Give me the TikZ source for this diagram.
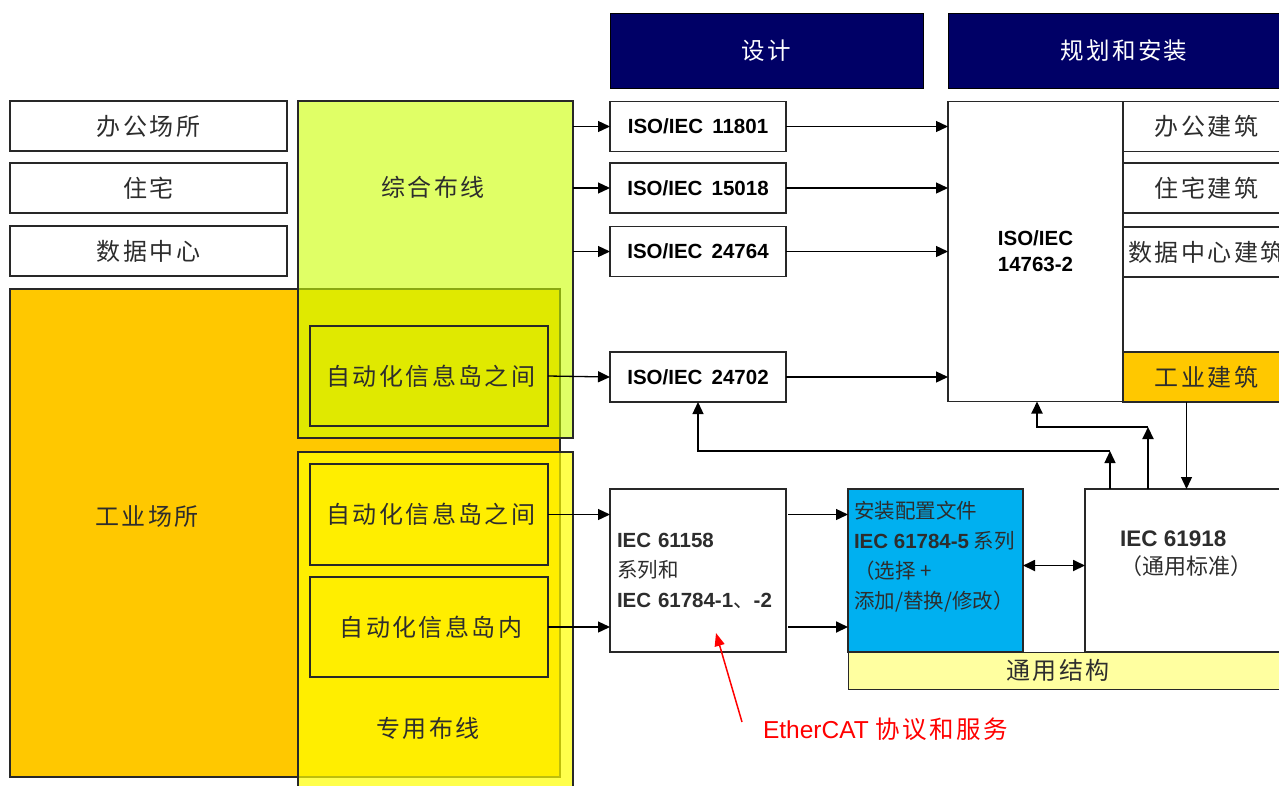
\documentclass[tikz,border=0pt]{standalone}
\usepackage{fontspec}
\setmainfont{Liberation Sans}
\newfontfamily\cjk{Noto Sans CJK SC}
\newfontfamily\cjkls[LetterSpace=10]{Noto Sans CJK SC}
\usetikzlibrary{arrows.meta,calc}
\definecolor{navy}{RGB}{0,0,102}
\definecolor{orng}{RGB}{255,200,0}
\definecolor{lime}{RGB}{204,255,0}
\definecolor{ylw}{RGB}{255,255,0}
\definecolor{sky}{RGB}{0,176,240}
\definecolor{pale}{RGB}{255,255,160}
\definecolor{txt}{RGB}{45,45,45}
\definecolor{bord}{RGB}{40,40,40}
\begin{document}
\begin{tikzpicture}[x=1pt,y=-1pt,
  wh/.style 2 args={minimum width=#1pt,minimum height=#2pt},
  every node/.style={inner sep=0pt,outer sep=0pt},
  lbl/.style={text=txt,font=\cjkls\fontsize{24}{26}\selectfont},
  hdr/.style={draw=black,line width=1pt,fill=navy,text=white,font=\cjkls\fontsize{23.5}{26}\selectfont},
  wbox/.style={draw=bord,line width=1.3pt,fill=white,lbl},
  obox/.style={draw=bord,line width=1.3pt},
  isobox/.style={draw=bord,line width=1.3pt,fill=white,text=black,font=\bfseries\fontsize{20.5}{26}\selectfont},
  arr/.style={draw=black,line width=1.3pt,-{Triangle[length=12pt,width=11pt]}},
  darr/.style={draw=black,line width=1.8pt,{Triangle[length=12pt,width=11pt]}-{Triangle[length=12pt,width=11pt]}},
  cjkt/.style={font=\cjk\fontsize{20.5}{30}\selectfont},
]
\useasboundingbox (0,0) rectangle (1279,785);
% headers
\node[hdr,wh={313}{75}] (h1) at (766.5,50.5) {设计};
\node[hdr,wh={352}{75}] (h2) at (1124,50.5) {规划和安装};
% left column
\node[wbox,wh={277}{50}] (office) at (148.5,126) {办公场所};
\node[wbox,wh={277}{50}] (home) at (148.5,188) {住宅};
\node[wbox,wh={277}{50}] (dc) at (148.5,251) {数据中心};
\node[obox,fill=orng,wh={550}{488}] (ind) at (285,533) {};
\node[lbl] (indt) at (147,517) {工业场所};
\node[obox,fill=lime,fill opacity=0.6,wh={275}{337}] (gen) at (435.5,269.5) {};
\node[lbl] (gent) at (433,187) {综合布线};
\node[obox,wh={238}{100}] (in1) at (429,376) {};
\node[lbl] (in1t) at (431,376) {自动化信息岛之间};
\node[obox,fill=ylw,fill opacity=0.7,wh={275}{360}] (ded) at (435.5,632) {};
\node[lbl] (dedt) at (428,728) {专用布线};
\node[obox,wh={238}{101}] (in2) at (429,514.5) {};
\node[lbl] (in2t) at (431,514.5) {自动化信息岛之间};
\node[obox,wh={238}{100}] (in3) at (429,627) {};
\node[lbl] (in3t) at (431,627) {自动化信息岛内};
% ISO column
\node[isobox,wh={176}{50}] (iso1) at (698,126.5) {ISO/IEC\hspace{0.45em}11801};
\node[isobox,wh={176}{50}] (iso2) at (698,188) {ISO/IEC\hspace{0.45em}15018};
\node[isobox,wh={176}{50}] (iso3) at (698,251.5) {ISO/IEC\hspace{0.45em}24764};
\node[isobox,wh={176}{50}] (iso4) at (698,377) {ISO/IEC\hspace{0.45em}24702};
\node[isobox,wh={176}{163},text width=162pt,align=left,text=txt,font=\bfseries\fontsize{20.5}{30}\selectfont] (iec58) at (698,570.5)
  {IEC 61158\\{\cjk\mdseries 系列和}\\IEC 61784-1{\cjk\mdseries 、}-2};
% right column
\node[isobox,wh={175}{300},align=center] (iso14) at (1035.5,251.5) {ISO/IEC\\14763-2};
\node[wbox,wh={167}{50}] (rb1) at (1206.5,126.5) {办公建筑};
\node[wbox,wh={167}{50}] (rb2) at (1206.5,188) {住宅建筑};
\node[wbox,wh={167}{50}] (rb3) at (1206.5,252) {数据中心建筑};
\node[wbox,fill=orng,wh={167}{50}] (rb4) at (1206.5,377) {工业建筑};
% bottom
\node[draw=bord,line width=1.3pt,fill=sky,wh={175}{163}] (blue) at (935.5,570.5) {};
\node[anchor=west,align=left,text=txt,cjkt] (bluet) at (854,556.5)
  {安装配置文件\\{\rmfamily\bfseries IEC 61784-5} 系列\\（选择 +\\添加/替换/修改）};
\node[draw=bord,line width=1.3pt,fill=white,wh={215}{163}] (iec918) at (1192.5,570.5) {};
\node[anchor=west,align=left,text=txt,font=\cjk\fontsize{22}{28}\selectfont] (iec918t) at (1120,554)
  {{\rmfamily\bfseries\fontsize{22.5}{28}\selectfont IEC 61918}\\（通用标准）};
\node[draw=bord,line width=1pt,fill=pale,wh={452}{37}] (gs) at (1074,670.5) {};
\node[lbl] (gst) at (1058,670.5) {通用结构};
% arrows left -> ISO
\draw[arr] (iso1.west -| gen.east) -- (iso1.west);
\draw[arr] (iso2.west -| gen.east) -- (iso2.west);
\draw[arr] (iso3.west -| gen.east) -- (iso3.west);
\draw[arr] (in1.east) -- (iso4.west);
\draw[arr] (in2.east) -- (in2.east -| iec58.west);
\draw[arr] (in3.east) -- (in3.east -| iec58.west);
% ISO -> 14763
\draw[arr] (iso1.east) -- (iso1.east -| iso14.west);
\draw[arr] (iso2.east) -- (iso2.east -| iso14.west);
\draw[arr] (iso3.east) -- (iso3.east -| iso14.west);
\draw[arr] (iso4.east) -- (iso4.east -| iso14.west);
% IEC58 -> blue
\draw[arr] ([xshift=2pt]iec58.east |- in2.east) -- (in2.east -| blue.west);
\draw[arr,line width=1.8pt] ([xshift=2pt]iec58.east |- in3.east) -- (in3.east -| blue.west);
\draw[darr] ([yshift=5pt]blue.east) -- ([yshift=5pt]iec918.west);
% IEC61918 upward paths
\coordinate (j1) at (1110,451);
\coordinate (j2) at (1148,427);
\draw[arr] (iec918.north -| j1) -- (j1);
\draw[arr] (j1) -| (iso4.south);
\draw[arr,line width=2pt] (iec918.north -| j2) -- (j2);
\draw[arr,line width=2pt] (j2) -| ([xshift=1.5pt]iso14.south);
\draw[arr] ([xshift=-20pt]rb4.south) -- ([xshift=-20pt]rb4.south |- iec918.north);
% red annotation
\coordinate (rs) at (742,722);
\coordinate (rt) at (716,633);
\draw[red,line width=1.5pt,-{Triangle[length=13pt,width=10pt]}] (rs) -- (rt);
\node[anchor=west,text=red,font=\fontsize{24.5}{26}\selectfont] (eth) at (763,729) {EtherCAT {\cjkls 协议和服务}};
\end{tikzpicture}
\end{document}
